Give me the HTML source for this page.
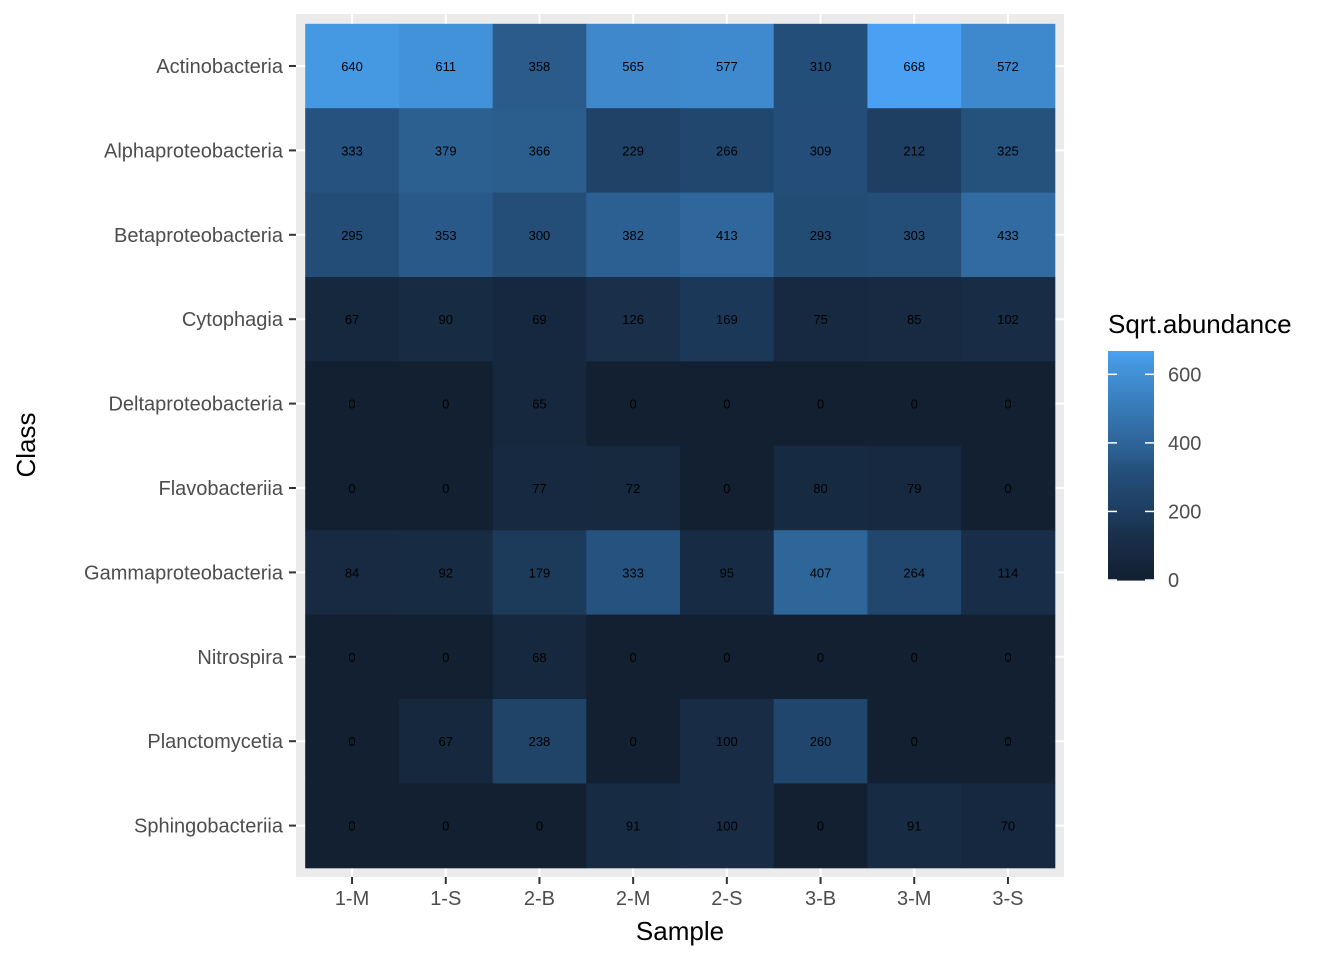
<!DOCTYPE html>
<html><head><meta charset="utf-8"><style>
body{margin:0;background:#fff}
svg{display:block;font-family:"Liberation Sans",Arial,sans-serif}
</style></head><body>
<svg id="s" width="1344" height="960" xmlns="http://www.w3.org/2000/svg"></svg>
<script>
const rows=["Actinobacteria","Alphaproteobacteria","Betaproteobacteria","Cytophagia","Deltaproteobacteria","Flavobacteriia","Gammaproteobacteria","Nitrospira","Planctomycetia","Sphingobacteriia"];
const cols=["1-M","1-S","2-B","2-M","2-S","3-B","3-M","3-S"];
const data=[[640,611,358,565,577,310,668,572],[333,379,366,229,266,309,212,325],[295,353,300,382,413,293,303,433],[67,90,69,126,169,75,85,102],[0,0,65,0,0,0,0,0],[0,0,77,72,0,80,79,0],[84,92,179,333,95,407,264,114],[0,0,68,0,0,0,0,0],[0,67,238,0,100,260,0,0],[0,0,0,91,100,0,91,70]];
const A=[[0,18,32,49],[126,25,47,74],[169,27,56,88],[333,38,82,127],[358,42,91,139],[640,69,152,226],[668,74,160,242]];
function col(v){for(let k=0;k<A.length-1;k++){const a=A[k],b=A[k+1];if(v<=b[0]){const t=(v-a[0])/(b[0]-a[0]);
return `rgb(${Math.round(a[1]+(b[1]-a[1])*t)},${Math.round(a[2]+(b[2]-a[2])*t)},${Math.round(a[3]+(b[3]-a[3])*t)})`}}return "rgb(74,160,242)"}
let h='';
const px0=296,px1=1064,py0=14,py1=877;
h+=`<rect x="${px0}" y="${py0}" width="${px1-px0}" height="${py1-py0}" fill="#EBEBEB"/>`;
const cw=93.7,rh=84.4,x0=305.2,y0=23.8;
for(let j=0;j<8;j++){const cx=x0+cw*(j+0.5);h+=`<line x1="${cx}" x2="${cx}" y1="${py0}" y2="${py1}" stroke="#fff" stroke-width="2"/>`}
for(let i=0;i<10;i++){const cy=y0+rh*(i+0.5);h+=`<line x1="${px0}" x2="${px1}" y1="${cy}" y2="${cy}" stroke="#fff" stroke-width="2"/>`}
for(let i=0;i<10;i++)for(let j=0;j<8;j++){const x=x0+cw*j,y=y0+rh*i;
h+=`<rect x="${x}" y="${y}" width="${cw+0.5}" height="${rh+0.5}" fill="${col(data[i][j])}"/>`;
h+=`<text x="${x+cw/2}" y="${y+rh/2+5}" font-size="13" text-anchor="middle" fill="#000">${data[i][j]}</text>`}
for(let i=0;i<10;i++){const cy=y0+rh*(i+0.5);
h+=`<line x1="289" x2="296" y1="${cy}" y2="${cy}" stroke="#333" stroke-width="2"/>`;
h+=`<text x="283" y="${cy+7}" font-size="20" text-anchor="end" fill="#4D4D4D">${rows[i]}</text>`}
for(let j=0;j<8;j++){const cx=x0+cw*(j+0.5);
h+=`<line x1="${cx}" x2="${cx}" y1="877" y2="884" stroke="#333" stroke-width="2"/>`;
h+=`<text x="${cx}" y="905" font-size="20" text-anchor="middle" fill="#4D4D4D">${cols[j]}</text>`}
h+=`<text x="680" y="940" font-size="26" text-anchor="middle" fill="#000">Sample</text>`;
h+=`<text transform="translate(35,445) rotate(-90)" font-size="26" text-anchor="middle" fill="#000">Class</text>`;
h+=`<text x="1108" y="333" font-size="26" fill="#000">Sqrt.abundance</text>`;
const by0=351,by1=580,bx=1108,bw=46;
for(let k=0;k<100;k++){const v=668*k/100,y=by1-(by1-by0)*(k+1)/100;h+=`<rect x="${bx}" y="${y}" width="${bw}" height="${(by1-by0)/100+0.6}" fill="${col(v+3.34)}"/>`}
for(const v of [0,200,400,600]){const y=by1-(by1-by0)*v/668;
h+=`<line x1="${bx}" x2="${bx+9}" y1="${y}" y2="${y}" stroke="#fff" stroke-width="1.5"/><line x1="${bx+bw-9}" x2="${bx+bw}" y1="${y}" y2="${y}" stroke="#fff" stroke-width="1.5"/>`;
h+=`<text x="1168" y="${y+7}" font-size="20" fill="#4D4D4D">${v}</text>`}
document.getElementById('s').innerHTML=h;
</script>
</body></html>
